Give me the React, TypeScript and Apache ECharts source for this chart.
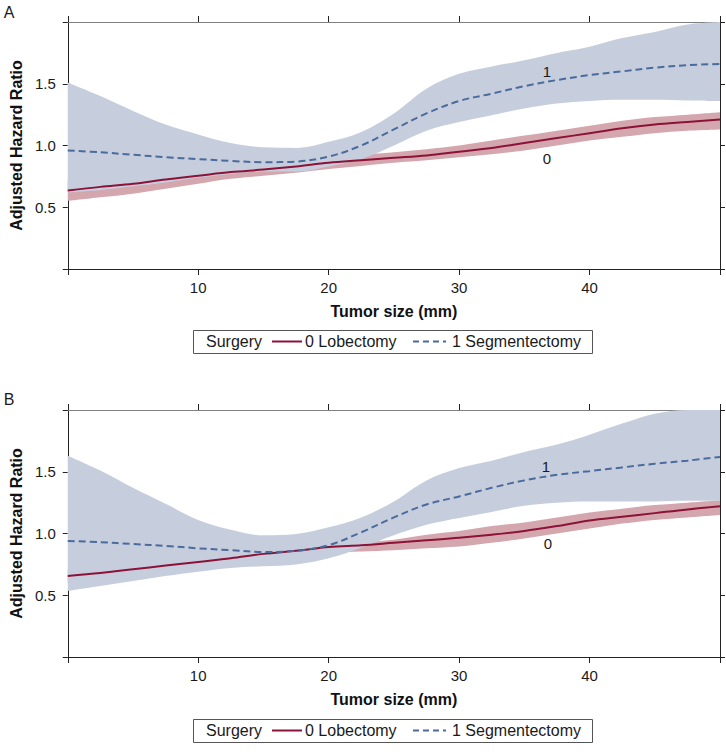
import React, { useEffect, useRef } from "react";
import * as echarts from "echarts";

const tumorSize = [0, 2.5, 5, 7.5, 10, 12.5, 15, 17.5, 20, 22.5, 25, 27.5, 30, 32.5, 35, 37.5, 40, 42.5, 45, 47.5, 50];
const xTickLabels = [10, 20, 30, 40];
const yTickLabels = [0.5, 1.0, 1.5];

// Panel A
const aLobHR = [0.635, 0.665, 0.69, 0.725, 0.755, 0.785, 0.805, 0.83, 0.86, 0.88, 0.9, 0.92, 0.95, 0.98, 1.02, 1.06, 1.1, 1.14, 1.17, 1.19, 1.21];
const aLobLow = [0.55, 0.58, 0.61, 0.65, 0.69, 0.73, 0.755, 0.78, 0.81, 0.835, 0.86, 0.88, 0.905, 0.93, 0.96, 1.0, 1.04, 1.07, 1.1, 1.12, 1.13];
const aLobHigh = [0.72, 0.75, 0.77, 0.8, 0.82, 0.84, 0.855, 0.88, 0.905, 0.925, 0.945, 0.97, 1.0, 1.04, 1.08, 1.12, 1.16, 1.2, 1.23, 1.25, 1.27];
const aSegHR = [0.96, 0.945, 0.925, 0.905, 0.89, 0.875, 0.865, 0.87, 0.91, 1.0, 1.13, 1.26, 1.36, 1.42, 1.48, 1.53, 1.57, 1.6, 1.63, 1.65, 1.66];
const aSegLow = [0.62, 0.64, 0.67, 0.7, 0.74, 0.77, 0.79, 0.79, 0.83, 0.89, 1.0, 1.12, 1.19, 1.245, 1.3, 1.34, 1.36, 1.37, 1.37, 1.365, 1.36];
const aSegHigh = [1.51, 1.4, 1.28, 1.17, 1.09, 1.02, 0.985, 0.98, 1.03, 1.11, 1.26, 1.46, 1.58, 1.64, 1.69, 1.75, 1.8, 1.87, 1.92, 1.98, 2.0];

// Panel B
const bLobHR = [0.656, 0.68, 0.71, 0.74, 0.77, 0.8, 0.835, 0.86, 0.89, 0.905, 0.925, 0.945, 0.965, 0.99, 1.02, 1.06, 1.105, 1.135, 1.165, 1.195, 1.22];
const bLobLow = [0.6, 0.63, 0.66, 0.7, 0.73, 0.76, 0.79, 0.82, 0.845, 0.855, 0.865, 0.88, 0.895, 0.925, 0.96, 1.0, 1.04, 1.08, 1.11, 1.13, 1.15];
const bLobHigh = [0.71, 0.73, 0.76, 0.78, 0.81, 0.84, 0.87, 0.9, 0.92, 0.93, 0.95, 0.99, 1.02, 1.06, 1.09, 1.13, 1.17, 1.2, 1.23, 1.25, 1.27];
const bSegHR = [0.94, 0.93, 0.915, 0.9, 0.88, 0.865, 0.85, 0.86, 0.905, 1.01, 1.13, 1.235, 1.3, 1.37, 1.43, 1.475, 1.505, 1.535, 1.565, 1.59, 1.62];
const bSegLow = [0.535, 0.575, 0.615, 0.655, 0.69, 0.72, 0.735, 0.75, 0.8, 0.885, 0.985, 1.07, 1.125, 1.175, 1.225, 1.25, 1.26, 1.26, 1.26, 1.265, 1.265];
const bSegHigh = [1.63, 1.51, 1.37, 1.24, 1.11, 1.03, 0.985, 0.995, 1.05, 1.13, 1.26, 1.43, 1.53, 1.59, 1.66, 1.72, 1.8, 1.89, 1.97, 2.0, 2.0];

const legendTitle = "Surgery";
const legendNames = ["0 Lobectomy", "1 Segmentectomy"];
const panelNames = ["A", "B"];

const FONT = '"Liberation Sans", Arial, Helvetica, sans-serif';
const RED_LINE = "#8c1238";
const RED_BAND = "#d4a7ae";
const BLUE_LINE = "#4b6b9c";
const BLUE_BAND = "#c6cede";
const AXIS_DARK = "#222222";
const AXIS_TOP = "#808080";

const GRID_TOPS = [22, 410];
const GRID_H = 247;
const SMOOTH = 0.35;

function pairs(ys: number[]) {
  return tumorSize.map((x, i) => [x, ys[i]]);
}

// band drawn as a stacked area on a hidden category axis (same 0..50 span)
function bandSeries(g: number, key: string, lo: number[], hi: number[], color: string) {
  const common = {
    type: "line",
    xAxisIndex: g * 3 + 2,
    yAxisIndex: g * 2,
    stack: key + g,
    symbol: "none",
    smooth: SMOOTH,
    silent: true,
    lineStyle: { width: 0, opacity: 0 },
  };
  return [
    { ...common, name: key + "Lower" + g, data: lo.slice() },
    { ...common, name: key + "Upper" + g, data: hi.map((v, i) => v - lo[i]), areaStyle: { color, opacity: 1 } },
  ];
}

function panelSeries(g: number, lob: number[], lobLo: number[], lobHi: number[], seg: number[], segLo: number[], segHi: number[]) {
  return [
    ...bandSeries(g, "lobBand", lobLo, lobHi, RED_BAND),
    ...bandSeries(g, "segBand", segLo, segHi, BLUE_BAND),
    {
      type: "line",
      name: legendNames[0],
      xAxisIndex: g * 3,
      yAxisIndex: g * 2,
      data: pairs(lob),
      symbol: "none",
      smooth: SMOOTH,
      lineStyle: { color: RED_LINE, width: 2 },
    },
    {
      type: "line",
      name: legendNames[1],
      xAxisIndex: g * 3,
      yAxisIndex: g * 2,
      data: pairs(seg),
      symbol: "none",
      smooth: SMOOTH,
      lineStyle: { color: BLUE_LINE, width: 2, type: [7, 4] },
    },
  ];
}

function xAxes(g: number) {
  const base = {
    gridIndex: g,
    type: "value",
    min: 0,
    max: 50,
    interval: 10,
    splitLine: { show: false },
    axisTick: { show: true, inside: false, length: 6, lineStyle: { color: AXIS_DARK } },
  };
  return [
    {
      ...base,
      position: "bottom",
      axisLine: { show: true, onZero: false, lineStyle: { color: AXIS_DARK, width: 1 } },
      axisLabel: {
        show: true,
        margin: 11,
        fontSize: 15,
        fontFamily: FONT,
        color: "#1a1a1a",
        formatter: (v: number) => (xTickLabels.indexOf(v) >= 0 ? String(v) : ""),
      },
      name: "Tumor size (mm)",
      nameLocation: "middle",
      nameGap: 34,
      nameTextStyle: { fontSize: 16, fontWeight: "bold", fontFamily: FONT, color: "#111" },
    },
    {
      ...base,
      position: "top",
      axisLine: { show: true, onZero: false, lineStyle: { color: AXIS_TOP, width: 1 } },
      axisTick: { show: true, inside: false, length: 6, lineStyle: { color: AXIS_DARK } },
      axisLabel: { show: false },
    },
    {
      gridIndex: g,
      type: "category",
      data: tumorSize.map(String),
      boundaryGap: false,
      show: false,
    },
  ];
}

function yAxes(g: number) {
  const base = {
    gridIndex: g,
    type: "value",
    min: 0,
    max: 2,
    interval: 0.5,
    splitLine: { show: false },
    axisTick: { show: true, inside: false, length: 5, lineStyle: { color: AXIS_DARK } },
  };
  return [
    {
      ...base,
      position: "left",
      axisLine: { show: true, onZero: false, lineStyle: { color: AXIS_DARK, width: 1 } },
      axisLabel: {
        show: true,
        margin: 12,
        fontSize: 15,
        fontFamily: FONT,
        color: "#1a1a1a",
        formatter: (v: number) => (yTickLabels.indexOf(v) >= 0 ? v.toFixed(1) : ""),
      },
      name: "Adjusted Hazard Ratio",
      nameLocation: "middle",
      nameGap: 36,
      nameTextStyle: { fontSize: 16, fontWeight: "bold", fontFamily: FONT, color: "#111" },
    },
    {
      ...base,
      position: "right",
      axisLine: { show: true, onZero: false, lineStyle: { color: AXIS_DARK, width: 1 } },
      axisLabel: { show: false },
    },
  ];
}

function legendGraphic(top: number) {
  const cy = top + 11.5;
  const mk = (text: string, x: number) => ({
    type: "text",
    z: 100,
    style: { text, x, y: cy, font: `16px ${FONT}`, fill: "#1a1a1a", align: "left", verticalAlign: "middle", textAlign: "left", textVerticalAlign: "middle" },
  });
  return [
    {
      type: "rect",
      z: 90,
      shape: { x: 193.5, y: top + 0.5, width: 399, height: 23 },
      style: { fill: "#fff", stroke: "#555", lineWidth: 1 },
    },
    mk(legendTitle, 206),
    {
      type: "line",
      z: 100,
      shape: { x1: 272, y1: cy, x2: 302, y2: cy },
      style: { stroke: RED_LINE, lineWidth: 2 },
    },
    mk(legendNames[0], 305),
    {
      type: "line",
      z: 100,
      shape: { x1: 413, y1: cy, x2: 446, y2: cy },
      style: { stroke: BLUE_LINE, lineWidth: 2, lineDash: [6, 4] },
    },
    mk(legendNames[1], 452),
  ];
}

function txt(text: string, x: number, y: number, size: number, align = "center") {
  return {
    type: "text",
    z: 100,
    style: { text, x, y, font: `${size}px ${FONT}`, fill: "#1a1a1a", align, verticalAlign: "middle", textAlign: align, textVerticalAlign: "middle" },
  };
}

export default function App() {
  const ref = useRef<HTMLDivElement>(null);
  useEffect(() => {
    if (!ref.current) return;
    const chart = echarts.init(ref.current, null, { renderer: "svg" });
    const option: any = {
      animation: false,
      backgroundColor: "#ffffff",
      textStyle: { fontFamily: FONT },
      grid: GRID_TOPS.map((t) => ({ left: 67, right: 6, top: t, height: GRID_H, containLabel: false })),
      xAxis: [...xAxes(0), ...xAxes(1)],
      yAxis: [...yAxes(0), ...yAxes(1)],
      series: [
        ...panelSeries(0, aLobHR, aLobLow, aLobHigh, aSegHR, aSegLow, aSegHigh),
        ...panelSeries(1, bLobHR, bLobLow, bLobHigh, bSegHR, bSegLow, bSegHigh),
      ],
      graphic: [
        txt(panelNames[0], 9, 12, 16),
        txt(panelNames[1], 9, 399, 16),
        txt("1", 547, 71, 15),
        txt("0", 547, 158, 15),
        txt("1", 546, 466, 15),
        txt("0", 548, 543, 15),
        ...legendGraphic(330),
        ...legendGraphic(719),
      ],
    };
    chart.setOption(option);
    return () => chart.dispose();
  }, []);
  return (
    <div
      ref={ref}
      style={{ position: "fixed", left: 0, top: 0, width: 726, height: 754, background: "#fff" }}
    />
  );
}
